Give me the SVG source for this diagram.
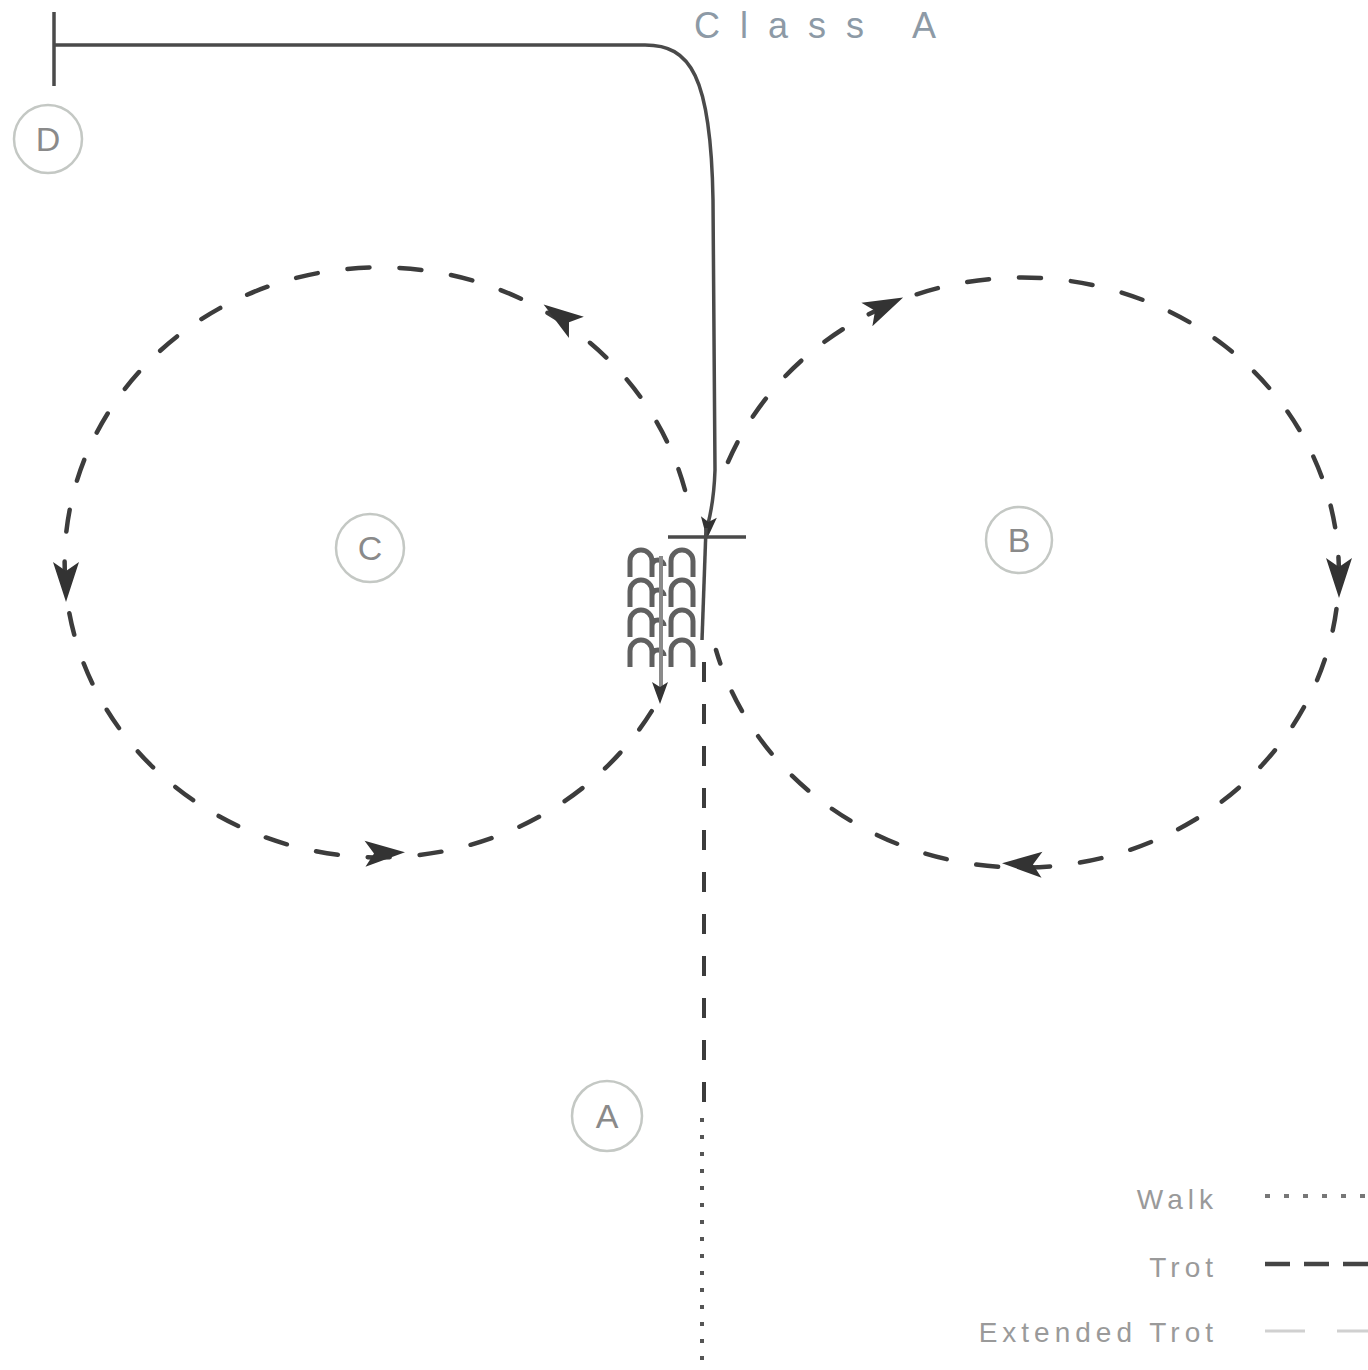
<svg xmlns="http://www.w3.org/2000/svg" width="1368" height="1370" viewBox="0 0 1368 1370">
<defs>
<style>
.trot{fill:none;stroke:#3c3c3c;stroke-width:4.5;stroke-dasharray:22 30;stroke-linecap:round}
.vtrot{fill:none;stroke:#3c3c3c;stroke-width:4;stroke-dasharray:20 22}
.walk{fill:none;stroke:#555;stroke-width:4;stroke-dasharray:4 13}
.solid{fill:none;stroke:#4a4a4a;stroke-width:3.5}
.arch{fill:none;stroke:#606060;stroke-width:5}
.mark circle{fill:none;stroke:#c4c8c4;stroke-width:2.5}
.mark text{font-family:"Liberation Sans",Arial,sans-serif;font-size:34px;fill:#8a8a8a;text-anchor:middle}
.legend text{font-family:"Liberation Sans",Arial,sans-serif;font-size:28px;fill:#9a9a9a;text-anchor:end;letter-spacing:5px}
.ah{fill:#333}
</style>
<path id="ah" d="M 20 0 L -20 -13 L -11 0 L -20 13 Z"/>
<path id="ahs" d="M 12 0 L -10 -8 L -5 0 L -10 8 Z"/>
</defs>
<rect width="1368" height="1370" fill="#ffffff"/>

<text x="694" y="38" font-family="Liberation Sans, Arial, sans-serif" font-size="36" letter-spacing="20" fill="#8d9aa6">Class A</text>

<g id="connectors">
<g id="path-c">
<path class="trot" d="M 685 490 A 315 295 0 1 0 661 695"/>
<use href="#ah" class="ah" transform="translate(66,582) rotate(90)"/>
<use href="#ah" class="ah" transform="translate(385,853) rotate(-2)"/>
<use href="#ah" class="ah" transform="translate(560,316) rotate(215)"/>
</g>
<g id="path-b">
<path class="trot" d="M 728 462 A 317 295 0 1 1 716 650"/>
<use href="#ah" class="ah" transform="translate(885,306) rotate(-25)"/>
<use href="#ah" class="ah" transform="translate(1339,578) rotate(90)"/>
<use href="#ah" class="ah" transform="translate(1022,864) rotate(182)"/>
</g>
<g id="entry">
<line class="solid" x1="54" y1="12" x2="54" y2="86"/>
<path class="solid" d="M 54 45 H 645 C 690 45 711 75 713 200 L 715 470 Q 714 500 708 524"/>
<use href="#ahs" class="ah" transform="translate(708,527) rotate(95)"/>
<line class="solid" x1="668" y1="537" x2="746" y2="537"/>
<line class="solid" x1="706" y1="528" x2="702" y2="640"/>
</g>
<g id="serpentine">
<path class="arch" d="M 630 577 V 561 A 11 11 0 0 1 652 561 V 577 M 652 566 A 6 6 0 0 1 664 566 M 671 577 V 561 A 11 11 0 0 1 693 561 V 577"/>
<path class="arch" d="M 630 607 V 591 A 11 11 0 0 1 652 591 V 607 M 652 596 A 6 6 0 0 1 664 596 M 671 607 V 591 A 11 11 0 0 1 693 591 V 607"/>
<path class="arch" d="M 630 637 V 621 A 11 11 0 0 1 652 621 V 637 M 652 626 A 6 6 0 0 1 664 626 M 671 637 V 621 A 11 11 0 0 1 693 621 V 637"/>
<path class="arch" d="M 630 667 V 651 A 11 11 0 0 1 652 651 V 667 M 652 656 A 6 6 0 0 1 664 656 M 671 667 V 651 A 11 11 0 0 1 693 651 V 667"/>
<line x1="661" y1="556" x2="661" y2="688" stroke="#8a8a8a" stroke-width="4"/>
<use href="#ahs" class="ah" transform="translate(660,692) rotate(90)"/>
</g>
<g id="exit">
<line class="vtrot" x1="704" y1="662" x2="704" y2="1110"/>
<line class="walk" x1="702" y1="1118" x2="702" y2="1370"/>
</g>
</g>

<g id="node-d" class="mark"><circle cx="48" cy="139" r="34"/><text x="48" y="151">D</text></g>
<g id="node-c" class="mark"><circle cx="370" cy="548" r="34"/><text x="370" y="560">C</text></g>
<g id="node-b" class="mark"><circle cx="1019" cy="540" r="33"/><text x="1019" y="552">B</text></g>
<g id="node-a" class="mark"><circle cx="607" cy="1116" r="35"/><text x="607" y="1128">A</text></g>

<g id="legend" class="legend">
<text x="1218" y="1209">Walk</text>
<text x="1218" y="1277">Trot</text>
<text x="1218" y="1342">Extended Trot</text>
<line x1="1265" y1="1196" x2="1368" y2="1196" stroke="#777" stroke-width="4" stroke-dasharray="5 14"/>
<line x1="1265" y1="1264" x2="1368" y2="1264" stroke="#444" stroke-width="4.5" stroke-dasharray="25 14"/>
<line x1="1265" y1="1331" x2="1368" y2="1331" stroke="#d0d0d0" stroke-width="3" stroke-dasharray="40 32"/>
</g>
</svg>
